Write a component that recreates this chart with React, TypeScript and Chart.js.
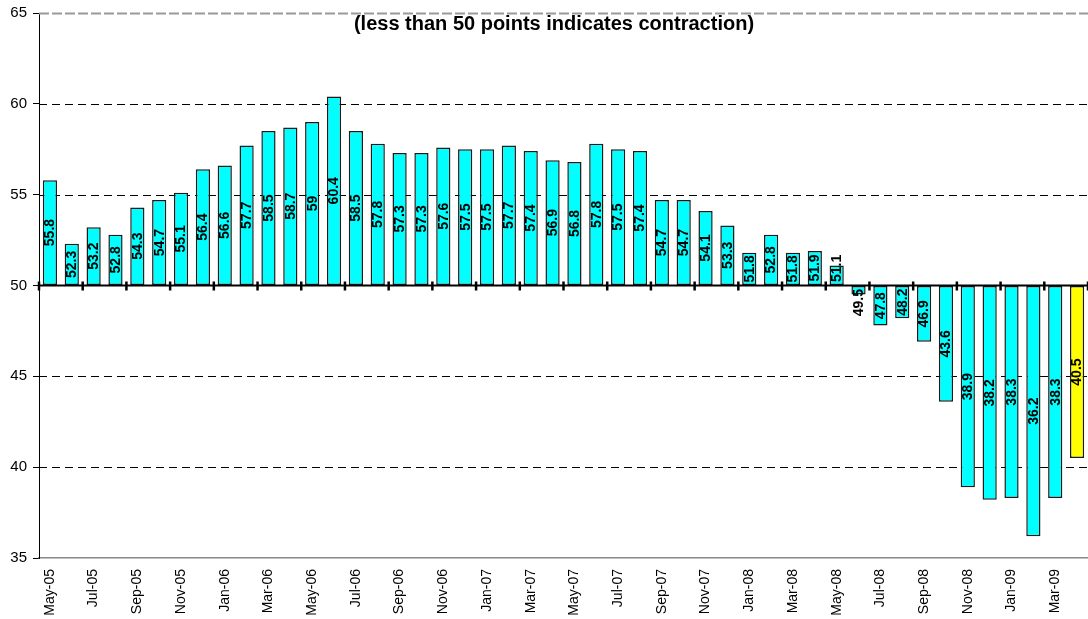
import React, { useEffect, useRef } from "react";
import { Chart, registerables } from "chart.js";

Chart.register(...registerables);

const categories = [
  "May-05", "Jun-05", "Jul-05", "Aug-05", "Sep-05", "Oct-05", "Nov-05", "Dec-05",
  "Jan-06", "Feb-06", "Mar-06", "Apr-06", "May-06", "Jun-06", "Jul-06", "Aug-06",
  "Sep-06", "Oct-06", "Nov-06", "Dec-06", "Jan-07", "Feb-07", "Mar-07", "Apr-07",
  "May-07", "Jun-07", "Jul-07", "Aug-07", "Sep-07", "Oct-07", "Nov-07", "Dec-07",
  "Jan-08", "Feb-08", "Mar-08", "Apr-08", "May-08", "Jun-08", "Jul-08", "Aug-08",
  "Sep-08", "Oct-08", "Nov-08", "Dec-08", "Jan-09", "Feb-09", "Mar-09", "Apr-09",
];

const pmiValues = [
  55.8, 52.3, 53.2, 52.8, 54.3, 54.7, 55.1, 56.4, 56.6, 57.7,
  58.5, 58.7, 59, 60.4, 58.5, 57.8, 57.3, 57.3, 57.6, 57.5,
  57.5, 57.7, 57.4, 56.9, 56.8, 57.8, 57.5, 57.4, 54.7, 54.7,
  54.1, 53.3, 51.8, 52.8, 51.8, 51.9, 51.1, 49.5, 47.8, 48.2,
  46.9, 43.6, 38.9, 38.2, 38.3, 36.2, 38.3, 40.5,
];

const baselineValue = 50;
const yTicks = [35, 40, 45, 50, 55, 60, 65];
const subtitle = "(less than 50 points indicates contraction)";

const FONT = '"Liberation Sans", Arial, sans-serif';

const gridPlugin = {
  id: "customGrid",
  beforeDatasetsDraw(chart: any) {
    const { ctx, chartArea, scales } = chart;
    const y = scales.y;
    ctx.save();
    y.ticks.forEach((t: any) => {
      const v = t.value;
      if (v === baselineValue || v === y.min) return;
      const py = Math.round(y.getPixelForValue(v)) + 0.5;
      ctx.beginPath();
      if (v === y.max) {
        ctx.strokeStyle = "#999";
        ctx.lineWidth = 2;
        ctx.setLineDash([10, 3]);
      } else {
        ctx.strokeStyle = "#000";
        ctx.lineWidth = 1;
        ctx.setLineDash([8, 5]);
      }
      ctx.moveTo(chartArea.left, py);
      ctx.lineTo(chartArea.right, py);
      ctx.stroke();
    });
    ctx.restore();
  },
};

const baseAndLabelPlugin = {
  id: "baseAndLabels",
  afterDatasetsDraw(chart: any) {
    const { ctx, chartArea, scales } = chart;
    const x = scales.x;
    const y = scales.y;
    const y50 = y.getPixelForValue(baselineValue);
    ctx.save();
    ctx.strokeStyle = "#000";
    ctx.lineWidth = 2;
    ctx.setLineDash([]);
    ctx.beginPath();
    ctx.moveTo(chartArea.left, y50);
    ctx.lineTo(chartArea.right, y50);
    ctx.stroke();
    const cw = x.getPixelForValue(1) - x.getPixelForValue(0);
    ctx.lineWidth = 2.5;
    for (let i = 0; i <= categories.length; i += 2) {
      const px = x.getPixelForValue(i) - cw / 2;
      ctx.beginPath();
      ctx.moveTo(px, y50 - 4);
      ctx.lineTo(px, y50 + 5);
      ctx.stroke();
    }
    ctx.font = `bold 14px ${FONT}`;
    ctx.fillStyle = "#000";
    ctx.textBaseline = "middle";
    const meta = chart.getDatasetMeta(0);
    meta.data.forEach((bar: any, i: number) => {
      const p = bar.getProps(["x", "y", "base"], true);
      const text = String(pmiValues[i]);
      const tw = ctx.measureText(text).width;
      const len = Math.abs(p.base - p.y);
      ctx.save();
      ctx.translate(p.x + 0.5, 0);
      ctx.rotate(-Math.PI / 2);
      let cy: number;
      if (tw + 4 <= len) {
        cy = (p.y + p.base) / 2;
      } else if (p.y < p.base) {
        cy = p.base - 3 - tw / 2;
      } else {
        cy = p.base + 3 + tw / 2;
      }
      ctx.textAlign = "center";
      ctx.fillText(text, -cy, 0);
      ctx.restore();
    });
    ctx.restore();
  },
  afterDraw(chart: any) {
    const { ctx } = chart;
    ctx.save();
    ctx.font = `bold 20px ${FONT}`;
    ctx.fillStyle = "#000";
    ctx.textAlign = "center";
    ctx.textBaseline = "alphabetic";
    ctx.fillText(subtitle, 554, 30);
    ctx.restore();
  },
};

export default function App() {
  const canvasRef = useRef<HTMLCanvasElement | null>(null);

  useEffect(() => {
    if (!canvasRef.current) return;
    const barColors = pmiValues.map((_, i) => (i === pmiValues.length - 1 ? "#FFFF00" : "#00FFFF"));
    const chart = new Chart(canvasRef.current, {
      type: "bar",
      data: {
        labels: categories,
        datasets: [
          {
            data: pmiValues,
            base: baselineValue,
            backgroundColor: barColors,
            borderColor: "#1a1a1a",
            borderWidth: 1.5,
            borderSkipped: false,
            barPercentage: 0.65,
            categoryPercentage: 1,
          } as any,
        ],
      },
      options: {
        animation: false,
        responsive: false,
        maintainAspectRatio: false,
        layout: { padding: { top: 13, left: 0, right: 0, bottom: 0 } },
        plugins: {
          legend: { display: false },
          tooltip: { enabled: false },
          title: { display: false },
        },
        scales: {
          x: {
            grid: { display: true, drawOnChartArea: false, drawTicks: false },
            border: { display: true, color: "#888", width: 1.5 },
            ticks: {
              autoSkip: false,
              maxRotation: 90,
              minRotation: 90,
              padding: 11,
              color: "#000",
              font: { family: FONT, size: 14 },
              callback: (_v: any, i: number) => (i % 2 === 0 ? categories[i] : ""),
            },
            afterFit: (scale: any) => {
              scale.height = 61;
              scale.paddingLeft = 0;
              scale.paddingRight = 0;
            },
          },
          y: {
            min: 35,
            max: 65,
            afterBuildTicks: (scale: any) => {
              scale.ticks = yTicks.map((v) => ({ value: v }));
            },
            grid: { drawOnChartArea: false, drawTicks: true, tickLength: 6, color: "#000" },
            border: { display: true, color: "#000", width: 1 },
            ticks: {
              padding: 6,
              color: "#000",
              font: { family: FONT, size: 15 },
            },
            afterFit: (scale: any) => {
              scale.width = 39;
              scale.paddingTop = 0;
              scale.paddingBottom = 0;
            },
          },
        },
      },
      plugins: [gridPlugin, baseAndLabelPlugin],
    });
    return () => chart.destroy();
  }, []);

  return (
    <div style={{ position: "absolute", left: 0, top: 0, width: 1088, height: 619, background: "#fff" }}>
      <canvas ref={canvasRef} width={1088} height={619} style={{ width: 1088, height: 619, display: "block" }} />
    </div>
  );
}
